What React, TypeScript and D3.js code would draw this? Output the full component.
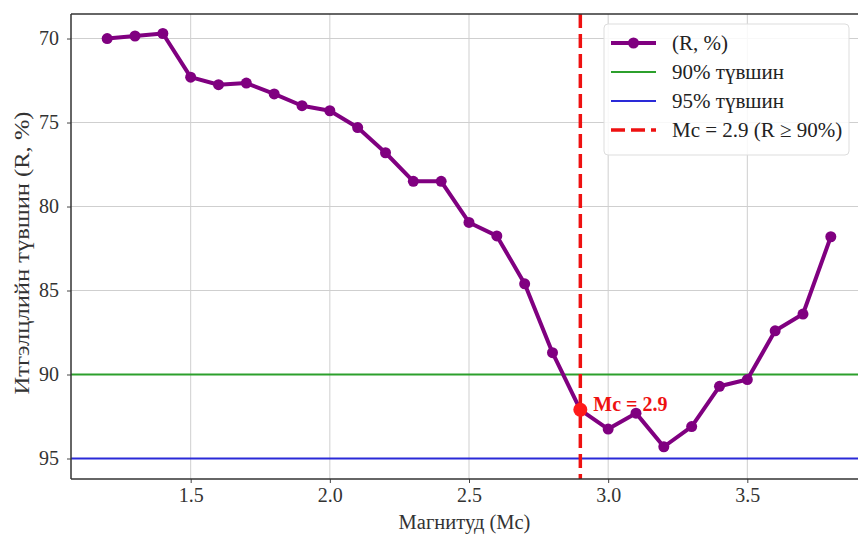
import { useEffect, useRef } from "react";
import * as d3 from "d3";

const magnitudes = [1.2, 1.3, 1.4, 1.5, 1.6, 1.7, 1.8, 1.9, 2.0, 2.1, 2.2, 2.3, 2.4, 2.5, 2.6, 2.7, 2.8, 2.9, 3.0, 3.1, 3.2, 3.3, 3.4, 3.5, 3.6, 3.7, 3.8];
const rValues = [70.0, 69.85, 69.7, 72.3, 72.75, 72.65, 73.3, 74.0, 74.3, 75.3, 76.8, 78.5, 78.5, 80.95, 81.75, 84.6, 88.7, 92.1, 93.25, 92.3, 94.3, 93.1, 90.7, 90.3, 87.4, 86.4, 81.8];
const xTicks = [1.5, 2.0, 2.5, 3.0, 3.5];
const yTicks = [70, 75, 80, 85, 90, 95];
const mc = 2.9;
const mcR = 92.1;
const legendLabels = ["(R, %)", "90% түвшин", "95% түвшин", "Mc = 2.9 (R ≥ 90%)"];

const WIDTH = 858;
const HEIGHT = 535;
const FONT = "Liberation Serif";

export default function App() {
  const svgRef = useRef(null);

  useEffect(() => {
    const svg = d3.select(svgRef.current);
    svg.selectAll("*").remove();

    const left = 71;
    const top = 14;
    const bottom = 479;
    const right = 867;

    const x = d3.scaleLinear().domain([1.07, 3.93]).range([left, right]);
    const y = d3.scaleLinear().domain([68.54, 96.22]).range([top, bottom]);

    svg.append("rect").attr("width", WIDTH).attr("height", HEIGHT).attr("fill", "white");

    svg
      .append("clipPath")
      .attr("id", "plot-clip")
      .append("rect")
      .attr("x", left)
      .attr("y", top)
      .attr("width", right - left)
      .attr("height", bottom - top);

    // grid
    const grid = svg.append("g").attr("stroke", "#cfcfcf").attr("stroke-width", 1);
    xTicks.forEach((t) => {
      grid.append("line").attr("x1", x(t)).attr("x2", x(t)).attr("y1", top).attr("y2", bottom);
    });
    yTicks.forEach((t) => {
      grid.append("line").attr("x1", left).attr("x2", right).attr("y1", y(t)).attr("y2", y(t));
    });

    // axes
    const xAxis = svg
      .append("g")
      .attr("transform", `translate(0,${bottom})`)
      .call(d3.axisBottom(x).tickValues(xTicks).tickFormat(d3.format(".1f")).tickSizeOuter(0).tickSize(4).tickPadding(5));
    const yAxis = svg
      .append("g")
      .attr("transform", `translate(${left},0)`)
      .call(d3.axisLeft(y).tickValues(yTicks).tickSizeOuter(0).tickSize(4).tickPadding(8));
    [xAxis, yAxis].forEach((a) => {
      a.select(".domain").remove();
      a.selectAll("line").attr("stroke", "#444");
      a.selectAll("text").attr("font-family", FONT).attr("font-size", 20).attr("fill", "#333");
    });

    const plot = svg.append("g").attr("clip-path", "url(#plot-clip)");

    // reference lines
    plot.append("line").attr("x1", left).attr("x2", right).attr("y1", y(90)).attr("y2", y(90)).attr("stroke", "#2ca02c").attr("stroke-width", 2);
    plot.append("line").attr("x1", left).attr("x2", right).attr("y1", y(95)).attr("y2", y(95)).attr("stroke", "#2a2ad8").attr("stroke-width", 2);

    const data = magnitudes.map((m, i) => ({ m, r: rValues[i] }));
    const line = d3
      .line()
      .x((d) => x(d.m))
      .y((d) => y(d.r));

    plot
      .append("path")
      .datum(data)
      .attr("d", line)
      .attr("fill", "none")
      .attr("stroke", "#800080")
      .attr("stroke-width", 4)
      .attr("stroke-linejoin", "round");

    plot
      .selectAll(".pt")
      .data(data)
      .enter()
      .append("circle")
      .attr("class", "pt")
      .attr("cx", (d) => x(d.m))
      .attr("cy", (d) => y(d.r))
      .attr("r", 5.5)
      .attr("fill", "#800080");

    plot
      .append("line")
      .attr("x1", x(mc))
      .attr("x2", x(mc))
      .attr("y1", top)
      .attr("y2", bottom)
      .attr("stroke", "#ee1111")
      .attr("stroke-width", 3.5)
      .attr("stroke-dasharray", "14,6");

    plot.append("circle").attr("cx", x(mc)).attr("cy", y(mcR)).attr("r", 7).attr("fill", "#ff1a1a");
    svg
      .append("text")
      .attr("x", x(mc) + 13)
      .attr("y", y(mcR) - 3)
      .attr("dominant-baseline", "middle")
      .attr("font-family", FONT)
      .attr("font-size", 20)
      .attr("font-weight", "bold")
      .attr("fill", "#ee1111")
      .text("Mc = 2.9");

    // spines
    const spine = svg.append("g").attr("stroke", "#333").attr("stroke-width", 1.5);
    spine.append("line").attr("x1", left).attr("x2", left).attr("y1", top).attr("y2", bottom);
    spine.append("line").attr("x1", left).attr("x2", right).attr("y1", bottom).attr("y2", bottom);
    spine.append("line").attr("x1", left).attr("x2", right).attr("y1", top).attr("y2", top);

    // legend
    const lg = svg.append("g").attr("transform", "translate(604,24)");
    lg.append("rect")
      .attr("width", 245)
      .attr("height", 131)
      .attr("rx", 4)
      .attr("fill", "white")
      .attr("fill-opacity", 0.85)
      .attr("stroke", "#dddddd");
    const styles = [
      { color: "#800080", width: 4, dash: null, marker: true },
      { color: "#2ca02c", width: 2, dash: null, marker: false },
      { color: "#2a2ad8", width: 2, dash: null, marker: false },
      { color: "#ee1111", width: 3.5, dash: "14,6", marker: false },
    ];
    legendLabels.forEach((label, i) => {
      const row = lg.append("g").attr("transform", `translate(0,${19 + i * 29})`);
      const s = styles[i];
      row
        .append("line")
        .attr("x1", 7)
        .attr("x2", 52)
        .attr("stroke", s.color)
        .attr("stroke-width", s.width)
        .attr("stroke-dasharray", s.dash);
      if (s.marker) row.append("circle").attr("cx", 29.5).attr("r", 5.5).attr("fill", s.color);
      row
        .append("text")
        .attr("x", 68)
        .attr("dy", "0.35em")
        .attr("font-family", FONT)
        .attr("font-size", 21)
        .attr("fill", "#222")
        .text(label);
    });

    // axis labels
    svg
      .append("text")
      .attr("x", (left + 858) / 2)
      .attr("y", 529)
      .attr("text-anchor", "middle")
      .attr("font-family", FONT)
      .attr("font-size", 20.5)
      .attr("fill", "#333")
      .text("Магнитуд (Mc)");
    svg
      .append("text")
      .attr("transform", `translate(29,253) rotate(-90)`)
      .attr("text-anchor", "middle")
      .attr("font-family", FONT)
      .attr("font-size", 20)
      .attr("textLength", 283)
      .attr("lengthAdjust", "spacingAndGlyphs")
      .attr("fill", "#333")
      .text("Итгэлцлийн түвшин (R, %)");
  }, []);

  return <svg ref={svgRef} width={WIDTH} height={HEIGHT} style={{ position: "absolute", left: 0, top: 0 }}></svg>;
}
